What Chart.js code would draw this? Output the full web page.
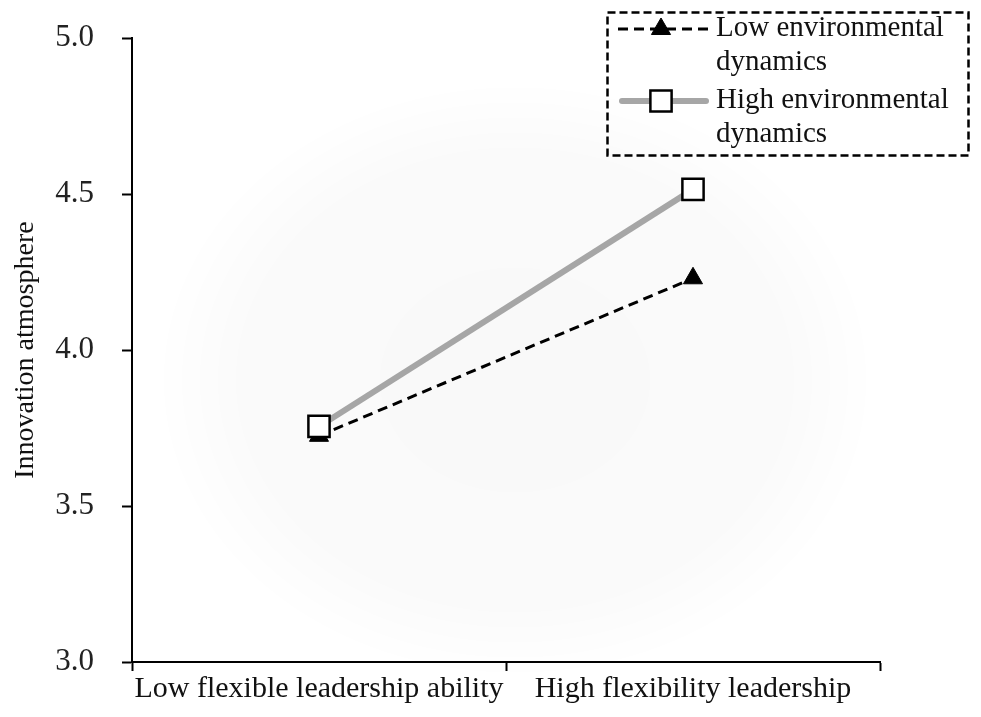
<!DOCTYPE html>
<html lang="en">
<head>
    <meta charset="UTF-8">
    <title>Innovation atmosphere</title>
    <script src="https://cdn.jsdelivr.net/npm/chart.js"></script>
    <style>
        body { margin: 0; background: #fff; }
        #wrap { width: 981px; height: 717px; }
    </style>
</head>
<body>
    <div id="wrap"><canvas id="myChart" width="981" height="717"></canvas></div>

<script>
// dados do grafico
const categorias = ['Low flexible leadership ability', 'High flexibility leadership'];
const baixaDinamica = [3.725, 4.23];
const altaDinamica = [3.755, 4.515];
const nomesSeries = [['Low environmental', 'dynamics'], ['High environmental', 'dynamics']];
const ticksY = [3.0, 3.5, 4.0, 4.5, 5.0];

const fonte = '"Liberation Serif", "Times New Roman", serif';

// fundo cinza bem claro atras do grafico
const fundo = {
    id: 'fundo',
    beforeDraw(chart) {
        const ctx = chart.ctx;
        ctx.save();
        ctx.translate(515, 380);
        ctx.scale(1.2, 1);
        const g = ctx.createRadialGradient(0, 0, 0, 0, 0, 300);
        g.addColorStop(0, 'rgba(0,0,0,0.022)');
        g.addColorStop(0.75, 'rgba(0,0,0,0.02)');
        g.addColorStop(1, 'rgba(0,0,0,0)');
        ctx.fillStyle = g;
        ctx.beginPath();
        ctx.arc(0, 0, 300, 0, Math.PI * 2);
        ctx.fill();
        ctx.restore();
    }
};

// legenda desenhada na mao (linha + marcador + texto em duas linhas)
const legenda = {
    id: 'legenda',
    afterDraw(chart) {
        const ctx = chart.ctx;
        ctx.save();
        ctx.strokeStyle = '#000';
        ctx.lineWidth = 2.5;
        ctx.setLineDash([8, 4]);
        ctx.strokeRect(607.5, 12.5, 361, 143);

        const linhas = [29, 101];
        chart.data.datasets.forEach((ds, i) => {
            const y = linhas[i];
            ctx.save();
            ctx.strokeStyle = ds.borderColor;
            ctx.lineWidth = ds.borderWidth;
            ctx.setLineDash(ds.borderDash || []);
            ctx.lineCap = i === 1 ? 'round' : 'butt';
            ctx.beginPath();
            ctx.moveTo(i === 1 ? 622 : 618, y);
            ctx.lineTo(i === 1 ? 706 : 710, y);
            ctx.stroke();
            ctx.restore();
            ctx.fillStyle = ds.pointBackgroundColor;
            ctx.strokeStyle = ds.pointBorderColor;
            ctx.lineWidth = ds.pointBorderWidth;
            ctx.setLineDash([]);
            ctx.beginPath();
            if (ds.pointStyle === 'rect') {
                const s = ds.pointRadius * Math.SQRT1_2;
                ctx.rect(661 - s, y - s, 2 * s, 2 * s);
            } else {
                const r = ds.pointRadius;
                ctx.moveTo(661, y - r);
                ctx.lineTo(661 + r * 0.87, y + r * 0.5);
                ctx.lineTo(661 - r * 0.87, y + r * 0.5);
                ctx.closePath();
            }
            ctx.fill();
            ctx.stroke();

            ctx.fillStyle = '#111';
            ctx.font = '29px ' + fonte;
            ctx.textBaseline = 'middle';
            ctx.fillText(nomesSeries[i][0], 716, y - 1);
            ctx.fillText(nomesSeries[i][1], 716, y + 33);
        });
        ctx.restore();
    }
};

const dados = {
    labels: categorias,
    datasets: [{
        label: nomesSeries[0].join(' '),
        data: baixaDinamica,
        borderColor: '#000',
        borderWidth: 3,
        borderDash: [10, 6],
        pointStyle: 'triangle',
        pointRadius: 11,
        pointBackgroundColor: '#000',
        pointBorderColor: '#000',
        pointBorderWidth: 1,
        order: 1
    }, {
        label: nomesSeries[1].join(' '),
        data: altaDinamica,
        borderColor: '#a6a6a6',
        borderWidth: 6,
        pointStyle: 'rect',
        pointRadius: 15,
        pointBackgroundColor: '#fff',
        pointBorderColor: '#000',
        pointBorderWidth: 2.5,
        order: 0
    }]
};

const config = {
    type: 'line',
    data: dados,
    plugins: [fundo, legenda],
    options: {
        responsive: false,
        animation: false,
        layout: { padding: { top: 20, right: 101, left: 0, bottom: 0 } },
        plugins: {
            legend: { display: false },
            tooltip: { enabled: false }
        },
        scales: {
            x: {
                offset: true,
                grid: {
                    offset: true,
                    drawOnChartArea: false,
                    drawTicks: true,
                    tickLength: 9,
                    tickWidth: 2,
                    tickColor: '#000'
                },
                border: { color: '#000', width: 2 },
                ticks: {
                    color: '#111',
                    font: { family: fonte, size: 30 },
                    padding: 0,
                    maxRotation: 0
                },
                afterFit(scale) { scale.height = 55; }
            },
            y: {
                min: 3,
                max: 5,
                afterBuildTicks(scale) { scale.ticks = ticksY.map(v => ({ value: v })); },
                grid: {
                    drawOnChartArea: false,
                    drawTicks: true,
                    tickLength: 10,
                    tickWidth: 2,
                    tickColor: '#000'
                },
                border: { color: '#000', width: 2 },
                ticks: {
                    color: '#222',
                    font: { family: fonte, size: 31, lineHeight: 0.65 },
                    padding: 28,
                    callback: v => Number(v).toFixed(1)
                },
                title: {
                    display: true,
                    text: 'Innovation atmosphere',
                    color: '#111',
                    font: { family: fonte, size: 28 },
                    padding: { top: 9, bottom: 0 }
                },
                afterFit(scale) { scale.width = 132; }
            }
        }
    }
};

let myChart = new Chart(document.getElementById('myChart'), config);
</script>
</body>
</html>
